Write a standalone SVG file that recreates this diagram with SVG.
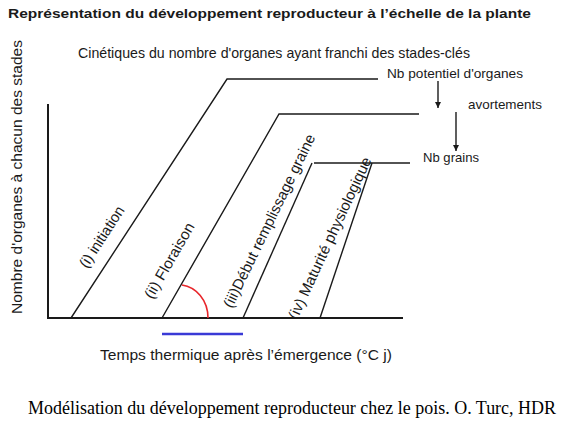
<svg xmlns="http://www.w3.org/2000/svg" width="570" height="423" viewBox="0 0 570 423">
<style>
.t{font-family:"Liberation Sans",Arial,sans-serif;fill:#1a1a1a}
.ln{fill:none;stroke:#1a1a1a;stroke-width:1.4;stroke-linejoin:miter}
.ax{fill:none;stroke:#1a1a1a;stroke-width:2}
</style>
<defs>
<marker id="ah" markerUnits="userSpaceOnUse" markerWidth="6" markerHeight="6" viewBox="0 0 6 6" refX="6" refY="3" orient="auto">
<path d="M0,0 L6,3 L0,6 Z" fill="#1a1a1a"/>
</marker>
</defs>
<rect width="570" height="423" fill="#ffffff"/>
<g id="title">
<text class="t" x="8" y="18" font-size="13.5" font-weight="bold" textLength="523" lengthAdjust="spacingAndGlyphs" fill="#000">Représentation du développement reproducteur à l’échelle de la plante</text>
<text class="t" x="78" y="57.5" font-size="14.5" textLength="392" lengthAdjust="spacingAndGlyphs">Cinétiques du nombre d'organes ayant franchi des stades-clés</text>
</g>
<g id="axes">
<line class="ax" x1="48" y1="104" x2="48" y2="319"/>
<line class="ax" x1="47" y1="318" x2="403" y2="318"/>
<text class="t" font-size="15" transform="translate(22,314) rotate(-90)" textLength="274" lengthAdjust="spacingAndGlyphs">Nombre d'organes à chacun des stades</text>
<text class="t" x="100" y="360" font-size="15" textLength="292" lengthAdjust="spacingAndGlyphs">Temps thermique après l’émergence (°C j)</text>
</g>
<g id="connectors">
<polyline id="curve-i" class="ln" points="71,318 227,79 378,79"/>
<polyline id="curve-ii" class="ln" points="162,318 279,114 419,114"/>
<line id="curve-iii" class="ln" x1="243" y1="318" x2="312" y2="163"/>
<line class="ln" x1="314" y1="163" x2="410" y2="163"/>
<line id="curve-iv" class="ln" x1="320" y1="318" x2="372" y2="163"/>
<line id="arrow-potentiel" class="ln" stroke-width="1.1" x1="438" y1="81" x2="438" y2="108" marker-end="url(#ah)"/>
<line id="arrow-avortements" class="ln" stroke-width="1.1" x1="456" y1="112" x2="456" y2="151" marker-end="url(#ah)"/>
<path id="angle" d="M182,285 C196,287 208,300 208,318" fill="none" stroke="#e8262b" stroke-width="1.6"/>
<line id="duration" x1="162" y1="334" x2="243" y2="334" stroke="#3a3ad6" stroke-width="2.6"/>
</g>
<g id="stage-labels">
<text class="t" font-size="15" transform="translate(87,269) rotate(-57)" textLength="70" lengthAdjust="spacingAndGlyphs">(i) initiation</text>
<text class="t" font-size="15" transform="translate(152.5,300) rotate(-60)" textLength="85" lengthAdjust="spacingAndGlyphs">(ii) Floraison</text>
<text class="t" font-size="15" transform="translate(232,309) rotate(-64)" textLength="191" lengthAdjust="spacingAndGlyphs">(iii)Début remplissage graine</text>
<text class="t" font-size="15" transform="translate(297,320.5) rotate(-65)" textLength="177" lengthAdjust="spacingAndGlyphs">(iv) Maturité physiologique</text>
</g>
<g id="right-labels">
<text class="t" x="387" y="77.5" font-size="13" textLength="136" lengthAdjust="spacingAndGlyphs">Nb potentiel d'organes</text>
<text class="t" x="468" y="109" font-size="13" textLength="74" lengthAdjust="spacingAndGlyphs">avortements</text>
<text class="t" x="423" y="161.5" font-size="13" textLength="56" lengthAdjust="spacingAndGlyphs">Nb grains</text>
</g>
<g id="caption">
<text x="28" y="414" font-family="'Liberation Serif','Times New Roman',serif" font-size="18" fill="#000" textLength="528" lengthAdjust="spacingAndGlyphs">Modélisation du développement reproducteur chez le pois. O. Turc, HDR</text>
</g>
</svg>
